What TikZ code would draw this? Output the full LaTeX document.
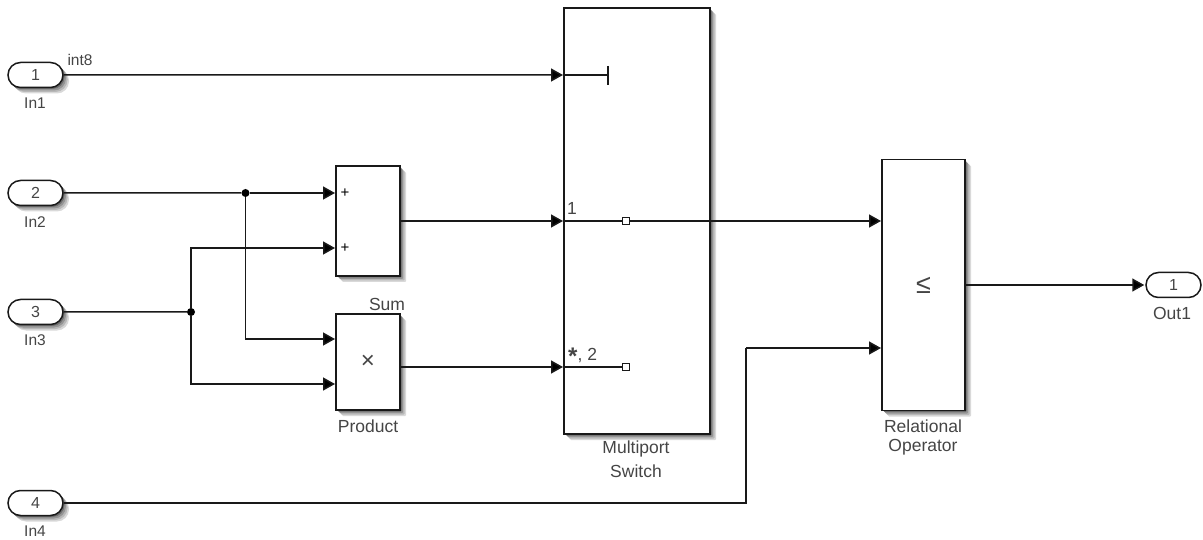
\documentclass[tikz,border=0pt]{standalone}
\usepackage{fontspec}
\setmainfont{Liberation Sans}
\usetikzlibrary{arrows.meta,shapes.misc}
\definecolor{txt}{gray}{0.27}
\definecolor{ln}{gray}{0.1}
\definecolor{sha}{gray}{0.85}
\definecolor{shb}{gray}{0.72}
\definecolor{shc}{gray}{0.58}
\definecolor{shd}{gray}{0.42}
\newcommand{\softshadow}[5]{%
  \fill[sha,rounded corners=#5] (#1+6,#2+6) rectangle (#3+6,#4+6);
  \fill[shb,rounded corners=#5] (#1+4.5,#2+4.5) rectangle (#3+4.5,#4+4.5);
  \fill[shc,rounded corners=#5] (#1+3,#2+3) rectangle (#3+3,#4+3);
  \fill[shd,rounded corners=#5] (#1+1.5,#2+1.5) rectangle (#3+1.5,#4+1.5);
}
\tikzset{
  blockbox/.style={draw=ln,line width=1.5pt,fill=white,inner sep=0pt},
  portpill/.style={rounded rectangle,draw=ln,line width=1.5pt,fill=white,minimum width=55pt,minimum height=25pt,inner sep=0pt,
    font=\fontsize{16}{16}\selectfont,text=txt},
  lab/.style={font=\fontsize{17.5}{17.5}\selectfont,text=txt,inner sep=0pt},
  small/.style={font=\fontsize{15.5}{15.5}\selectfont,text=txt,inner sep=0pt},
  sig/.style={draw=ln,line width=1.5pt},
  arr/.style={sig,-{Triangle[length=12pt,width=13pt,fill=black]},shorten >=1pt},
  junction/.style={circle,fill=black,inner sep=0pt,minimum size=8pt},
  sqterm/.style={rectangle,draw=ln,line width=1.3pt,fill=white,inner sep=0pt,minimum size=7pt},
  plusmark/.style={inner sep=0pt,font=\fontsize{15}{15}\selectfont,text=black},
}
\begin{document}
\begin{tikzpicture}[x=1pt,y=-1pt]
\useasboundingbox (0,0) rectangle (1203,540);
% soft shadows under blocks and ports
\softshadow{8}{62.5}{63}{87.5}{12pt}
\softshadow{8}{180.5}{63}{205.5}{12pt}
\softshadow{8}{299.5}{63}{324.5}{12pt}
\softshadow{8}{490.5}{63}{515.5}{12pt}
\softshadow{336}{166}{400}{276}{1pt}
\softshadow{336}{314}{400}{410}{1pt}
\softshadow{564}{8}{710}{434}{1pt}
\softshadow{882}{159.5}{965}{410.5}{1pt}
% ports
\node[portpill] (in1) at (35.5,75) {1};
\node[portpill] (in2) at (35.5,193) {2};
\node[portpill] (in3) at (35.5,312) {3};
\node[portpill] (in4) at (35.5,503) {4};
\node[portpill] (out1) at (1173.5,285) {1};
\node[small] (lin1) at (35,103) {In1};
\node[small] (lin2) at (35,222) {In2};
\node[small] (lin3) at (35,340) {In3};
\node[small] (lin4) at (35,531) {In4};
\node[lab] (lout) at (1172,313) {Out1};
\node[small] (lint) at (80,60) {int8};
% blocks
\node[blockbox,minimum width=64pt,minimum height=110pt] (sum) at (368,221) {};
\node[blockbox,minimum width=64pt,minimum height=96pt] (prod) at (368,362) {\fontsize{24}{24}\selectfont\textcolor{txt}{×}};
\node[blockbox,minimum width=146pt,minimum height=426pt] (msw) at (637,221) {};
\node[blockbox,minimum width=83pt,minimum height=251pt] (rel) at (923.5,285) {\fontsize{27}{27}\selectfont\textcolor{txt}{≤}};
\node[lab] (lsum) at (387,304) {Sum};
\node[lab] (lprod) at (368,426) {Product};
\node[lab] (lm1) at (636,449) {Multiport};
\node[lab] (lm2) at (636,471) {Switch};
\node[lab] (lr1) at (923,426) {Relational};
\node[lab] (lr2) at (923,447) {Operator};
\node[plusmark] (p1) at (345,193) {+};
\node[plusmark] (p2) at (345,248) {+};
\node[lab] (m1) at (572,208) {1};
\node[lab,anchor=base west] (m2) at (568,360) {\raisebox{-4pt}{\fontsize{24}{24}\selectfont\bfseries *}, 2};
% port coordinates
\coordinate (sa) at (336,193);
\coordinate (sb) at (336,248);
\coordinate (pa) at (336,339);
\coordinate (pb) at (336,384);
\coordinate (ma) at (564,75);
\coordinate (mb) at (564,221);
\coordinate (mc) at (564,367);
\coordinate (ra) at (882,221);
\coordinate (rb) at (882,348);
\coordinate (bend) at (746,348);
\coordinate (tick) at (608,75);
\coordinate (ticka) at (608,66);
\coordinate (tickb) at (608,85);
\coordinate (souta) at (400,221);
\coordinate (soutb) at (400,367);
\coordinate (relout) at (965,285);
\node[junction] (j1) at (245.5,193) {};
\node[junction] (j2) at (191,312) {};
% connectors
\draw[arr] (in1) -- (ma);
\draw[sig] (ma) -- (tick);
\draw[sig] (ticka) -- (tickb);
\draw[sig] (in2) -- (j1);
\draw[arr] (j1) -- (sa);
\draw[arr] (j1) |- (pa);
\draw[sig] (in3) -- (j2);
\draw[arr] (j2) |- (sb);
\draw[arr] (j2) |- (pb);
\draw[arr] (souta) -- (mb);
\draw[arr] (soutb) -- (mc);
\draw[arr] (mb) -- (ra);
\draw[sig] (mc) -- (626,367);
\draw[sig] (in4) -| (bend);
\draw[arr] (bend) -- (rb);
\draw[arr] (relout) -- (out1);
\node[sqterm] (t1) at (626,221) {};
\node[sqterm] (t2) at (626,367) {};
\end{tikzpicture}
\end{document}
